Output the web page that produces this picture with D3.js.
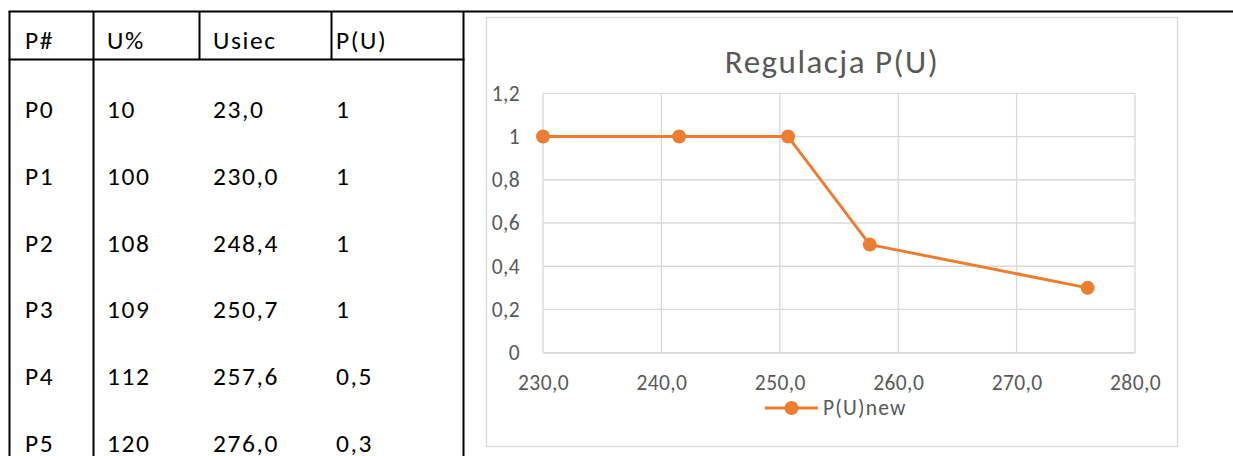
<!DOCTYPE html>
<html>
<head>
<meta charset="utf-8">
<script src="https://cdn.jsdelivr.net/npm/d3@7"></script>
<style>
  html, body { margin: 0; padding: 0; background: #fff; }
  svg { display: block; }
</style>
</head>
<body>
<svg id="root" width="1233" height="456"></svg>
<script>
// ---- Table data ----
const headers = ["P#", "U%", "Usiec", "P(U)"];
const pLabels = ["P0", "P1", "P2", "P3", "P4", "P5"];
const uPercent = ["10", "100", "108", "109", "112", "120"];
const uSiec = ["23,0", "230,0", "248,4", "250,7", "257,6", "276,0"];
const pU = ["1", "1", "1", "1", "0,5", "0,3"];

// ---- Chart data ----
const chartTitle = "Regulacja P(U)";
const seriesName = "P(U)new";
const chartU = [230.0, 241.5, 250.7, 257.6, 276.0];
const chartP = [1, 1, 1, 0.5, 0.3];
const xTicks = [230, 240, 250, 260, 270, 280];
const yTicks = [0, 0.2, 0.4, 0.6, 0.8, 1, 1.2];

const svg = d3.select("#root");
const FONT = "Carlito, Calibri, 'Open Sans', sans-serif";
const comma = d => String(d).replace(".", ",");

// ================= TABLE =================
const tbl = svg.append("g");
const colX = [9.5, 93.5, 199.5, 331.5, 463.5];
const textX = [25, 107, 213, 336];
const topY = 11.5, headBottom = 59.5;
const rowBase = [118, 185, 251.7, 318.3, 385, 452];

tbl.append("line").attr("x1", 8.5).attr("x2", 1233).attr("y1", topY).attr("y2", topY)
  .attr("stroke", "#000").attr("stroke-width", 2);
tbl.append("line").attr("x1", 8.5).attr("x2", 464.5).attr("y1", headBottom).attr("y2", headBottom)
  .attr("stroke", "#000").attr("stroke-width", 2);
[0, 1, 4].forEach(i => {
  tbl.append("line").attr("x1", colX[i]).attr("x2", colX[i]).attr("y1", topY).attr("y2", 456)
    .attr("stroke", "#000").attr("stroke-width", 2);
});
[2, 3].forEach(i => {
  tbl.append("line").attr("x1", colX[i]).attr("x2", colX[i]).attr("y1", topY).attr("y2", headBottom)
    .attr("stroke", "#000").attr("stroke-width", 2);
});

const TFS = 25.5, TLS = 1.6;
tbl.selectAll("text.h").data(headers).join("text")
  .attr("x", (d, i) => textX[i]).attr("y", 49)
  .attr("font-family", FONT).attr("font-size", TFS).attr("letter-spacing", TLS).attr("fill", "#000")
  .text(d => d);

const cols = [pLabels, uPercent, uSiec, pU];
cols.forEach((col, ci) => {
  tbl.selectAll(null).data(col).join("text")
    .attr("x", textX[ci]).attr("y", (d, ri) => rowBase[ri])
    .attr("font-family", FONT).attr("font-size", TFS).attr("letter-spacing", TLS).attr("fill", "#000")
    .text(d => d);
});

// ================= CHART =================
const chart = svg.append("g");
chart.append("rect").attr("x", 486.5).attr("y", 17.5).attr("width", 691).attr("height", 429)
  .attr("fill", "#fff").attr("stroke", "#d9d9d9").attr("stroke-width", 1.3);

const plot = { left: 543, right: 1135, top: 93.3, bottom: 352.7 };
const x = d3.scaleLinear().domain([230, 280]).range([plot.left, plot.right]);
const y = d3.scaleLinear().domain([0, 1.2]).range([plot.bottom, plot.top]);

chart.append("g").selectAll("line").data(yTicks).join("line")
  .attr("x1", plot.left).attr("x2", plot.right)
  .attr("y1", d => y(d)).attr("y2", d => y(d))
  .attr("stroke", "#d9d9d9").attr("stroke-width", 1.3);
chart.append("g").selectAll("line").data(xTicks).join("line")
  .attr("y1", plot.top).attr("y2", plot.bottom)
  .attr("x1", d => x(d)).attr("x2", d => x(d))
  .attr("stroke", "#d9d9d9").attr("stroke-width", 1.3);

const AFS = 21.5, ALS = 0.4;
const xAxis = d3.axisBottom(x).tickValues(xTicks).tickFormat(d => d3.format(".1f")(d).replace(".", ",")).tickSize(0).tickPadding(22);
const gx = chart.append("g").attr("transform", `translate(0,${plot.bottom})`).call(xAxis);
gx.select(".domain").attr("stroke", "#d9d9d9").attr("stroke-width", 1.3);
gx.selectAll("text").attr("font-family", FONT).attr("font-size", AFS).attr("letter-spacing", ALS).attr("fill", "#595959");

const yAxis = d3.axisLeft(y).tickValues(yTicks).tickFormat(comma).tickSize(0).tickPadding(23);
const gy = chart.append("g").attr("transform", `translate(${plot.left},0)`).call(yAxis);
gy.select(".domain").remove();
gy.selectAll("text").attr("font-family", FONT).attr("font-size", AFS).attr("letter-spacing", ALS).attr("fill", "#595959");

chart.append("text").attr("x", 832).attr("y", 73).attr("text-anchor", "middle")
  .attr("font-family", FONT).attr("font-size", 33).attr("letter-spacing", 1.5).attr("fill", "#595959").text(chartTitle);

const pts = chartU.map((u, i) => [u, chartP[i]]);
const ORANGE = "#ED7D31";
chart.append("path").datum(pts)
  .attr("d", d3.line().x(d => x(d[0])).y(d => y(d[1])))
  .attr("fill", "none").attr("stroke", ORANGE).attr("stroke-width", 3).attr("stroke-linejoin", "round");
chart.append("g").selectAll("circle").data(pts).join("circle")
  .attr("cx", d => x(d[0])).attr("cy", d => y(d[1])).attr("r", 7).attr("fill", ORANGE);

const lg = chart.append("g");
lg.append("line").attr("x1", 765).attr("x2", 818).attr("y1", 408).attr("y2", 408)
  .attr("stroke", ORANGE).attr("stroke-width", 3);
lg.append("circle").attr("cx", 791.5).attr("cy", 408).attr("r", 7).attr("fill", ORANGE);
lg.append("text").attr("x", 823).attr("y", 415).attr("font-family", FONT).attr("font-size", 21.5)
  .attr("letter-spacing", 1.2).attr("fill", "#595959").text(seriesName);
</script>
</body>
</html>
